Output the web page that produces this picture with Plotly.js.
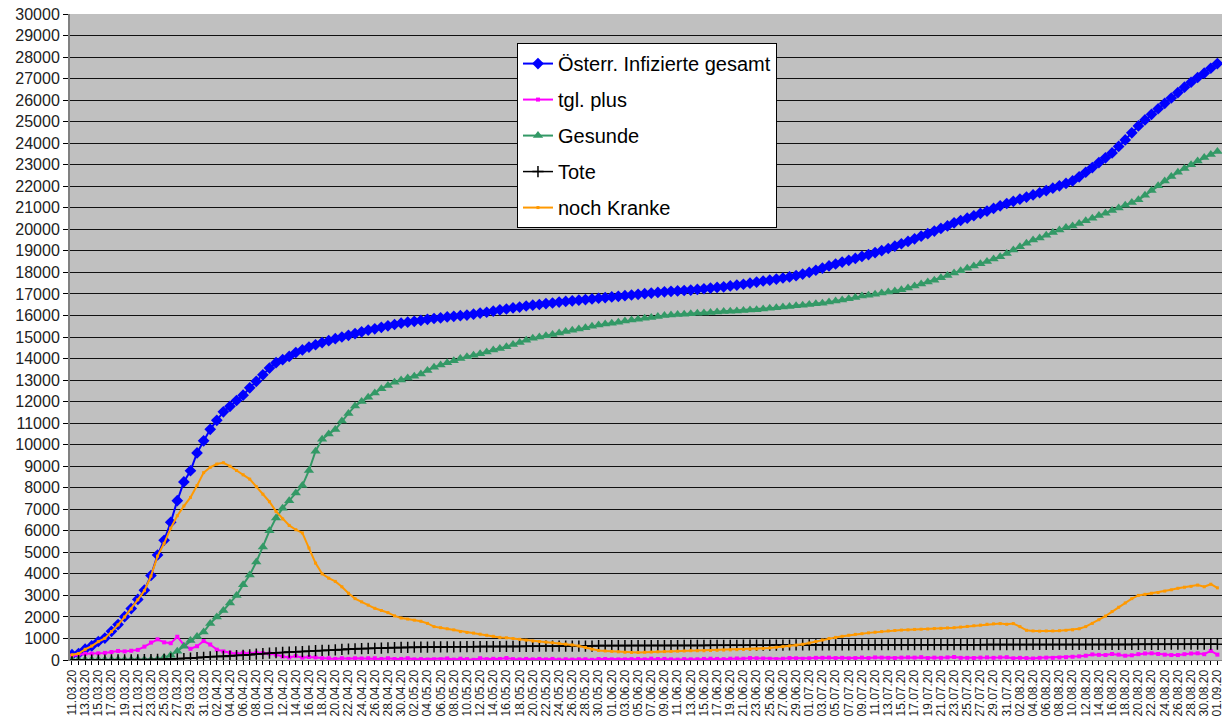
<!DOCTYPE html>
<html>
<head>
<meta charset="utf-8">
<script src="https://cdn.plot.ly/plotly-3.0.1.min.js"></script>
<style>html,body{margin:0;padding:0;background:#fff;}#chart{width:1224px;height:722px;}</style>
</head>
<body>
<div id="chart"></div>
<script>
const dates = ("11.03.20 12.03.20 13.03.20 14.03.20 15.03.20 16.03.20 17.03.20 18.03.20 19.03.20 20.03.20 " +
"21.03.20 22.03.20 23.03.20 24.03.20 25.03.20 26.03.20 27.03.20 28.03.20 29.03.20 30.03.20 31.03.20 " +
"01.04.20 02.04.20 03.04.20 04.04.20 05.04.20 06.04.20 07.04.20 08.04.20 09.04.20 10.04.20 " +
"11.04.20 12.04.20 13.04.20 14.04.20 15.04.20 16.04.20 17.04.20 18.04.20 19.04.20 20.04.20 " +
"21.04.20 22.04.20 23.04.20 24.04.20 25.04.20 26.04.20 27.04.20 28.04.20 29.04.20 30.04.20 " +
"01.05.20 02.05.20 03.05.20 04.05.20 05.05.20 06.05.20 07.05.20 08.05.20 09.05.20 10.05.20 " +
"11.05.20 12.05.20 13.05.20 14.05.20 15.05.20 16.05.20 17.05.20 18.05.20 19.05.20 20.05.20 " +
"21.05.20 22.05.20 23.05.20 24.05.20 25.05.20 26.05.20 27.05.20 28.05.20 29.05.20 30.05.20 31.05.20 " +
"01.06.20 02.06.20 03.06.20 04.06.20 05.06.20 06.06.20 07.06.20 08.06.20 09.06.20 10.06.20 " +
"11.06.20 12.06.20 13.06.20 14.06.20 15.06.20 16.06.20 17.06.20 18.06.20 19.06.20 20.06.20 " +
"21.06.20 22.06.20 23.06.20 24.06.20 25.06.20 26.06.20 27.06.20 28.06.20 29.06.20 30.06.20 " +
"01.07.20 02.07.20 03.07.20 04.07.20 05.07.20 06.07.20 07.07.20 08.07.20 09.07.20 10.07.20 " +
"11.07.20 12.07.20 13.07.20 14.07.20 15.07.20 16.07.20 17.07.20 18.07.20 19.07.20 20.07.20 " +
"21.07.20 22.07.20 23.07.20 24.07.20 25.07.20 26.07.20 27.07.20 28.07.20 29.07.20 30.07.20 31.07.20 " +
"01.08.20 02.08.20 03.08.20 04.08.20 05.08.20 06.08.20 07.08.20 08.08.20 09.08.20 10.08.20 " +
"11.08.20 12.08.20 13.08.20 14.08.20 15.08.20 16.08.20 17.08.20 18.08.20 19.08.20 20.08.20 " +
"21.08.20 22.08.20 23.08.20 24.08.20 25.08.20 26.08.20 27.08.20 28.08.20 29.08.20 30.08.20 31.08.20 " +
"01.09.20").split(" ");

const seriesNames = ["Österr. Infizierte gesamt", "tgl. plus", "Gesunde", "Tote", "noch Kranke"];

const infizierte = [
246, 302, 504, 655, 860, 1016, 1332, 1646, 2013, 2388,
2814, 3244, 3924, 4876, 5560, 6398, 7399, 8271, 8788, 9618,
10180, 10711, 11129, 11524, 11781, 12051, 12297, 12639, 12942, 13244,
13555, 13806, 13945, 14100, 14280, 14400, 14530, 14640, 14740, 14830,
14920, 15000, 15080, 15160, 15240, 15320, 15380, 15450, 15520, 15580,
15640, 15690, 15730, 15770, 15820, 15860, 15890, 15930, 15960, 15990,
16020, 16060, 16110, 16150, 16200, 16260, 16300, 16350, 16390, 16440,
16480, 16510, 16550, 16580, 16620, 16650, 16680, 16710, 16740, 16770,
16800, 16830, 16860, 16890, 16920, 16950, 16980, 17010, 17040, 17070,
17100, 17120, 17140, 17160, 17180, 17210, 17240, 17270, 17300, 17330,
17370, 17410, 17450, 17500, 17550, 17600, 17640, 17690, 17740, 17790,
17850, 17920, 18000, 18100, 18200, 18300, 18390, 18480, 18560, 18650,
18740, 18830, 18920, 19010, 19110, 19220, 19330, 19440, 19560, 19680,
19800, 19920, 20040, 20160, 20300, 20410, 20520, 20630, 20740, 20850,
20970, 21090, 21200, 21300, 21400, 21500, 21600, 21700, 21800, 21910,
22020, 22130, 22250, 22440, 22650, 22870, 23100, 23320, 23550, 23850,
24150, 24480, 24800, 25080, 25340, 25600, 25850, 26100, 26350, 26600,
26830, 27050, 27250, 27480, 27700];

const tglPlus = [
190, 250, 290, 300, 310, 330, 370, 420, 400, 430,
470, 620, 810, 960, 820, 780, 1080, 700, 520, 640,
880, 720, 480, 400, 340, 290, 330, 300, 340, 320,
300, 250, 160, 120, 180, 110, 140, 120, 80, 80,
50, 80, 55, 80, 70, 80, 80, 50, 80, 45,
50, 80, 30, 40, 25, 30, 35, 70, 20, 60,
40, 10, 80, 40, 55, 50, 90, 40, 30, 50,
30, 50, 30, 50, 20, 35, 20, 35, 35, 10,
45, 45, 30, 30, 30, 40, 50, 30, 60, 45,
50, 30, 20, 40, 30, 35, 50, 60, 50, 40,
60, 70, 60, 90, 80, 70, 60, 40, 60, 90,
80, 60, 80, 100, 100, 110, 90, 100, 80, 90,
110, 90, 120, 110, 100, 90, 110, 120, 110, 130,
90, 110, 100, 120, 140, 100, 100, 90, 110, 120,
100, 120, 130, 80, 100, 90, 70, 100, 110, 100,
120, 130, 150, 170, 200, 260, 240, 230, 280, 250,
200, 220, 270, 300, 310, 280, 250, 230, 230, 270,
300, 310, 270, 420, 250];

const gesunde = [
4, 4, 6, 6, 6, 6, 9, 9, 9, 9,
9, 9, 9, 28, 112, 225, 410, 636, 900, 1095,
1300, 1700, 2000, 2300, 2650, 3000, 3500, 3950, 4550, 5250,
6000, 6600, 7050, 7400, 7750, 8100, 8800, 9700, 10250, 10500,
10700, 11100, 11450, 11800, 12000, 12200, 12400, 12600, 12750, 12900,
13000, 13100, 13180, 13280, 13450, 13600, 13700, 13800, 13900, 14000,
14080, 14150, 14220, 14300, 14400, 14470, 14550, 14650, 14750, 14850,
14940, 15000, 15060, 15120, 15180, 15250, 15310, 15370, 15430, 15500,
15560, 15600, 15640, 15690, 15740, 15790, 15830, 15870, 15910, 15950,
16000, 16020, 16040, 16060, 16080, 16100, 16120, 16140, 16160, 16180,
16200, 16210, 16230, 16250, 16270, 16300, 16330, 16360, 16390, 16420,
16450, 16480, 16510, 16540, 16570, 16620, 16670, 16720, 16780, 16840,
16900, 16940, 16990, 17040, 17090, 17140, 17190, 17280, 17370, 17460,
17550, 17640, 17750, 17860, 17970, 18080, 18190, 18300, 18400, 18510,
18620, 18730, 18880, 19040, 19190, 19350, 19500, 19600, 19720, 19850,
19970, 20090, 20150, 20270, 20400, 20520, 20640, 20750, 20870, 20990,
21120, 21250, 21370, 21580, 21800, 22020, 22250, 22450, 22650, 22830,
23000, 23170, 23340, 23480, 23620];

const tote = [
0, 1, 1, 1, 1, 1, 3, 3, 6, 6,
8, 16, 21, 25, 30, 49, 58, 68, 86, 108,
128, 146, 158, 168, 186, 204, 220, 243, 273, 295,
319, 337, 350, 368, 384, 393, 410, 431, 443, 452,
470, 491, 510, 522, 530, 536, 542, 549, 569, 580,
584, 589, 596, 598, 600, 606, 608, 609, 614, 615,
618, 620, 623, 624, 626, 628, 629, 629, 632, 633,
635, 640, 641, 643, 643, 645, 645, 646, 647, 648,
668, 668, 669, 670, 670, 672, 672, 672, 672, 673,
673, 674, 674, 675, 676, 677, 678, 680, 681, 683,
684, 686, 687, 688, 688, 690, 690, 692, 693, 697,
702, 705, 705, 706, 706, 706, 706, 706, 706, 707,
708, 708, 708, 709, 709, 710, 710, 710, 711, 711,
711, 711, 711, 712, 712, 712, 713, 713, 714, 715,
716, 717, 718, 718, 718, 718, 719, 719, 719, 719,
719, 720, 720, 720, 721, 721, 722, 722, 723, 724,
725, 725, 727, 728, 728, 729, 730, 731, 731, 731,
732, 732, 733, 733, 734];

const nochKranke = [
242, 297, 497, 648, 853, 1006, 1320, 1631, 1998, 2373,
2797, 3219, 3894, 4823, 5418, 6124, 6700, 7150, 7550, 8100,
8700, 8950, 9100, 9160, 9000, 8800, 8600, 8400, 8050, 7700,
7350, 6900, 6550, 6250, 6050, 5900, 5200, 4500, 4000, 3800,
3650, 3400, 3100, 2850, 2700, 2550, 2400, 2300, 2200, 2050,
1950, 1900, 1850, 1800, 1700, 1550, 1500, 1450, 1400, 1320,
1280, 1250, 1200, 1150, 1100, 1050, 1030, 1000, 960, 920,
880, 860, 830, 800, 770, 740, 700, 650, 580, 500,
440, 420, 400, 380, 360, 350, 350, 360, 370, 380,
390, 400, 410, 420, 430, 430, 430, 440, 450, 460,
470, 480, 490, 500, 510, 530, 560, 590, 620, 650,
690, 730, 790, 860, 930, 1000, 1050, 1100, 1150, 1190,
1220, 1260, 1290, 1320, 1350, 1370, 1390, 1400, 1420, 1430,
1440, 1460, 1470, 1490, 1500, 1530, 1560, 1590, 1620, 1660,
1680, 1690, 1660, 1690, 1550, 1380, 1350, 1340, 1350, 1350,
1360, 1380, 1400, 1450, 1550, 1700, 1870, 2040, 2250, 2450,
2650, 2850, 3000, 3050, 3100, 3130, 3200, 3260, 3330, 3380,
3420, 3480, 3400, 3520, 3350];

const tickText = dates.map((d, i) => (i % 2 === 0 ? d : ""));

const styles = [
  {color: "#0000ff", width: 2, symbol: "diamond", size: 9},
  {color: "#ff00ff", width: 2, symbol: "square", size: 4},
  {color: "#339966", width: 2, symbol: "triangle-up", size: 9},
  {color: "#000000", width: 1.5, symbol: "cross-thin", size: 8},
  {color: "#ff9900", width: 2, symbol: "square", size: 3}
];
const values = [infizierte, tglPlus, gesunde, tote, nochKranke];

const traces = values.map((v, k) => {
  const s = styles[k];
  const marker = {symbol: s.symbol, size: s.size, color: s.color};
  if (s.symbol === "cross-thin") marker.line = {color: s.color, width: 1.5};
  return {
    type: "scatter", mode: "lines+markers", name: seriesNames[k],
    x: dates, y: v, legendgroup: "g" + k,
    line: {color: s.color, width: s.width},
    marker: marker, hoverinfo: "skip", cliponaxis: true
  };
});

const layout = {
  width: 1224, height: 722,
  margin: {l: 70, r: 2, t: 14, b: 62, pad: 0},
  paper_bgcolor: "#ffffff",
  plot_bgcolor: "#c0c0c0",
  showlegend: true,
  legend: {
    x: 0.388, y: 0.955, xanchor: "left", yanchor: "top",
    bgcolor: "#ffffff", bordercolor: "#000000", borderwidth: 1,
    font: {family: "Liberation Sans, Arial, sans-serif", size: 20, color: "#000000"},
    traceorder: "grouped", tracegroupgap: 7
  },
  xaxis: {
    type: "category", range: [-0.3, 174.7],
    tickmode: "array", tickvals: dates, ticktext: tickText,
    tickangle: -90,
    tickfont: {family: "Liberation Sans, Arial, sans-serif", size: 12, color: "#222222"},
    ticks: "outside", ticklen: 4, tickcolor: "#000000", tickwidth: 1,
    showgrid: false, showline: true, linecolor: "#808080", linewidth: 1,
    zeroline: false, automargin: false, fixedrange: true
  },
  yaxis: {
    range: [0, 30000], tick0: 0, dtick: 1000, tickformat: "d",
    showgrid: true, gridcolor: "#111111", gridwidth: 1,
    ticks: "outside", ticklen: 5, tickcolor: "#000000", tickwidth: 1,
    showline: true, linecolor: "#808080", linewidth: 2,
    tickfont: {family: "Liberation Sans, Arial, sans-serif", size: 16, color: "#222222"},
    zeroline: false, automargin: false, fixedrange: true
  }
};

Plotly.newPlot("chart", traces, layout, {displayModeBar: false, staticPlot: true});
</script>
</body>
</html>
